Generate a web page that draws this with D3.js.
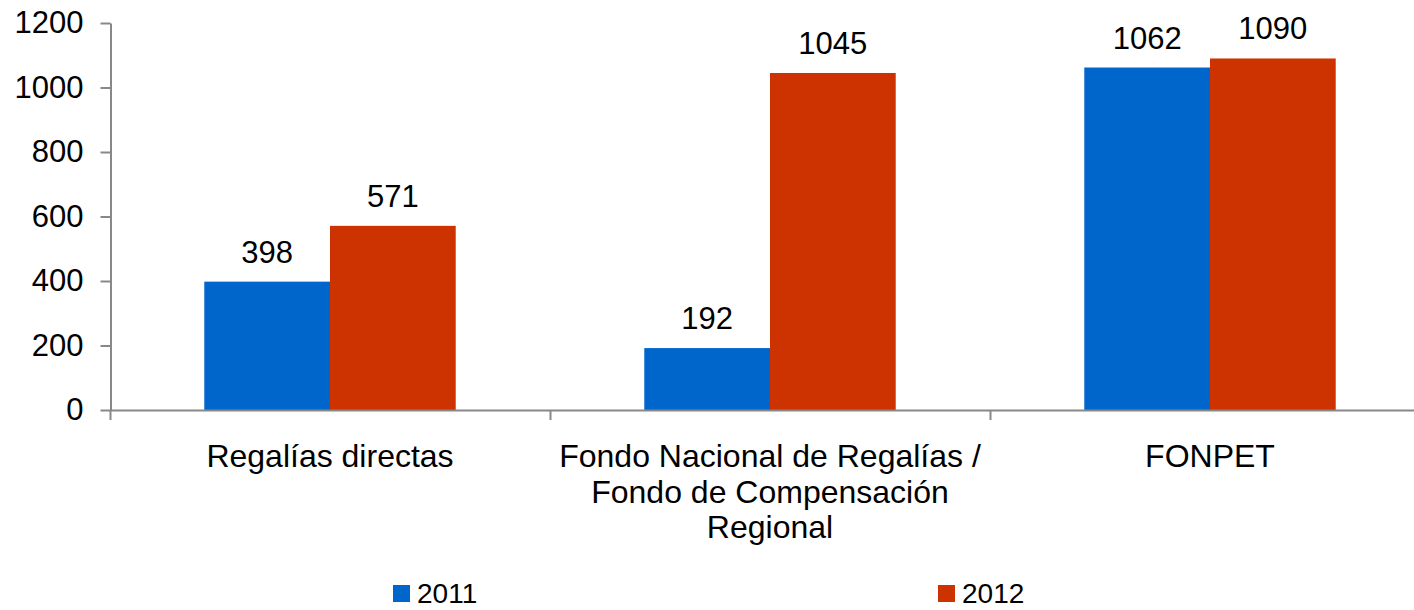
<!DOCTYPE html>
<html><head><meta charset="utf-8">
<script src="https://cdn.jsdelivr.net/npm/d3@7"></script>
<style>
body{margin:0;background:#fff;}
text{font-family:"Liberation Sans",Arial,sans-serif;fill:#000;}
</style></head>
<body><svg id="c" width="1414" height="610"></svg>
<script>
const categories = ["Regalías directas", "Fondo Nacional de Regalías / Fondo de Compensación Regional", "FONPET"];
const categoryLines = [["Regalías directas"], ["Fondo Nacional de Regalías /", "Fondo de Compensación", "Regional"], ["FONPET"]];
const seriesNames = ["2011", "2012"];
const values2011 = [398, 192, 1062];
const values2012 = [571, 1045, 1090];
const yTicks = [0, 200, 400, 600, 800, 1000, 1200];
const colors = ["#0066CC", "#CC3300"];

const svg = d3.select("#c");
const fs = 31;
const x = d3.scaleBand().domain(categories).range([110, 1430]).paddingInner(0).paddingOuter(0);
const x1 = d3.scaleBand().domain(seriesNames).range([0, x.bandwidth()]).paddingInner(0).paddingOuter(0.75);
const y = d3.scaleLinear().domain([0, 1200]).range([410, 23]);
const series = [values2011, values2012];

// bars
categories.forEach((c, i) => {
  seriesNames.forEach((s, j) => {
    const v = series[j][i];
    svg.append("rect")
      .attr("x", x(c) + x1(s)).attr("y", y(v))
      .attr("width", x1.bandwidth()).attr("height", y(0) - y(v))
      .attr("fill", colors[j]);
    svg.append("text")
      .attr("x", x(c) + x1(s) + x1.bandwidth() / 2).attr("y", y(v) - 19)
      .attr("text-anchor", "middle").style("font-size", fs + "px").text(v);
  });
});

// y axis
const yAxis = svg.append("g").attr("transform", "translate(110.5,0)")
  .call(d3.axisLeft(y).tickValues(yTicks).tickFormat(d3.format("d")).tickSize(10).tickPadding(17).tickSizeOuter(0));
yAxis.select(".domain").attr("stroke", "#888").attr("stroke-width", 2);
yAxis.selectAll(".tick line").attr("stroke", "#888").attr("stroke-width", 2);
yAxis.selectAll("text").style("font-size", fs + "px").attr("fill", "#000").attr("font-family", null);

// x axis line
svg.append("line").attr("x1", 110).attr("x2", 1414).attr("y1", 410.5).attr("y2", 410.5)
  .attr("stroke", "#888").attr("stroke-width", 2);
const bounds = categories.map(c => x(c)).concat([x.range()[1]]);
svg.selectAll(".xt").data(bounds).enter().append("line")
  .attr("x1", d => d + 0.5).attr("x2", d => d + 0.5).attr("y1", 410).attr("y2", 420)
  .attr("stroke", "#888").attr("stroke-width", 2);

// category labels
categories.forEach((c, i) => {
  const t = svg.append("text").attr("text-anchor", "middle").style("font-size", "32px");
  categoryLines[i].forEach((ln, k) => {
    t.append("tspan").attr("x", x(c) + x.bandwidth() / 2).attr("y", 467 + k * 35.5).text(ln);
  });
});

// legend
const legX = [393, 938];
seriesNames.forEach((s, j) => {
  svg.append("rect").attr("x", legX[j]).attr("y", 585).attr("width", 17).attr("height", 17).attr("fill", colors[j]);
  svg.append("text").attr("x", legX[j] + 24).attr("y", 603).style("font-size", "28px").text(s);
});
</script></body></html>
